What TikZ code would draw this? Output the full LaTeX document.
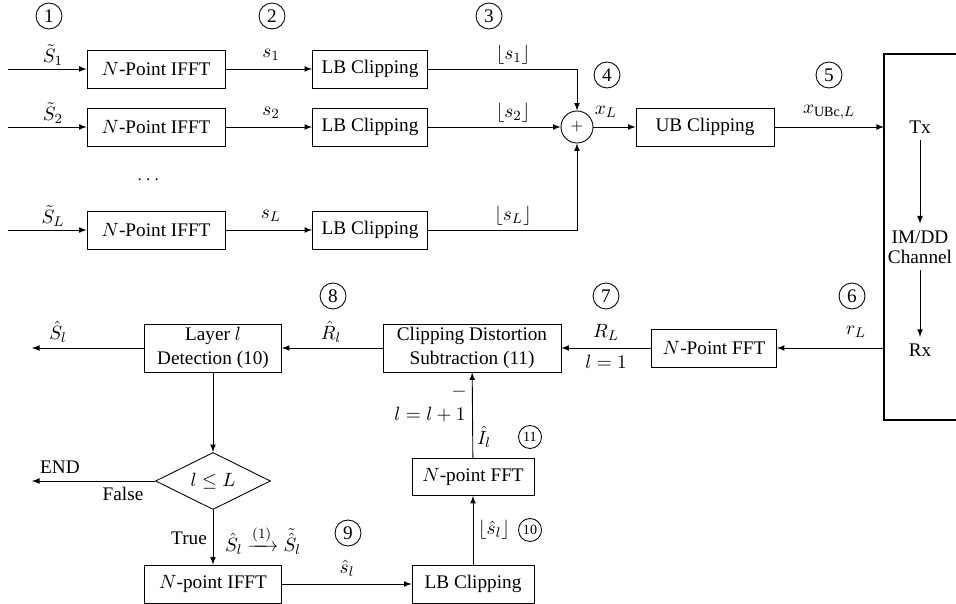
\documentclass[tikz,border=0pt,11pt]{standalone}
\usepackage{amsmath}
\usepackage{fontspec}
\setmainfont{Liberation Serif}
\usetikzlibrary{shapes.geometric}
\tikzset{
  blk/.style={draw, minimum width=2.76cm, minimum height=0.76cm, inner sep=1pt},
  blkb/.style={blk, minimum height=0.96cm, align=center},
  badge/.style={draw, circle, inner sep=0pt, minimum size=0.52cm},
  sbadge/.style={draw, circle, inner sep=0pt, minimum size=0.46cm, font=\scriptsize},
  lbl/.style={inner sep=1pt},
}
\begin{document}
\begin{tikzpicture}[x=0.02cm, y=-0.02cm, line width=0.5pt, >=latex]
        \useasboundingbox (0,0) rectangle (956,604);
        % transmitter, three layers
        \foreach \k/\yy/\lab in {1/69/1, 2/127/2, 3/230/L} {
          \coordinate (in\k) at (8,\yy);
          \node[blk] at (156,\yy) (ifft\k) {$N$-Point IFFT};
          \node[blk, minimum width=2.3cm] at (370,\yy) (lbc\k) {LB Clipping};
          \node[lbl] at (53,\yy-14) (St\k) {$\tilde{S}_{\lab}$};
          \node[lbl] at (271,\yy-14) (s\k) {$s_{\lab}$};
          \node[lbl] at (513,\yy-14) (fs\k) {$\lfloor s_{\lab}\rfloor$};
          \draw[-latex] (in\k) -- (ifft\k);
          \draw[-latex] (ifft\k) -- (lbc\k);
        }
        \node at (150,180) (dots) {$\cdots$};
        \node[badge] at (49,16) (c1) {1};
        \node[badge] at (272,16) (c2) {2};
        \node[badge] at (489,16) (c3) {3};
        \node[badge] at (607,75) (c4) {4};
        \node[badge] at (829,75) (c5) {5};
        \node[draw, circle, minimum size=0.64cm, inner sep=0pt] at (577,127) (sum) {\footnotesize $+$};
        \draw[-latex] (lbc1) -| (sum);
        \draw[-latex] (lbc2) -- (sum);
        \draw[-latex] (lbc3) -| (sum);
        \node[blk] at (705,127) (ubc) {UB Clipping};
        \node[lbl] at (606,112) (xL) {$x_L$};
        \draw[-latex] (sum) -- (ubc);
        % channel
        \coordinate (chin) at (884,127);
        \coordinate (chout) at (884,348);
        \draw[line width=1.1pt] (960,54) -- (884,54) -- (884,420) -- (960,420);
        \node[lbl] at (829,112) (xubc) {$x_{\mathrm{UBc},L}$};
        \draw[-latex] (ubc) -- (chin);
        \node at (920,127) (tx) {Tx};
        \node[align=center] at (920,247) (imdd) {IM/DD\\[-2pt]Channel};
        \node at (920,350) (rx) {Rx};
        \draw[-latex] (tx) -- (imdd);
        \draw[-latex] (imdd) -- (rx);
        % receiver
        \node[blk, minimum width=2.5cm] at (714,348) (fft) {$N$-Point FFT};
        \node[lbl] at (856,332) (rL) {$r_L$};
        \node[badge] at (852,296) (c6) {6};
        \draw[-latex] (chout) -- (fft);
        \node[blkb, minimum width=3.56cm] at (472,348) (cds) {Clipping Distortion\\Subtraction (11)};
        \node[lbl] at (606,332) (RL) {$R_L$};
        \node[lbl] at (606,362) (l1) {$l=1$};
        \node[badge] at (606,296) (c7) {7};
        \draw[-latex] (fft) -- (cds);
        \node[blkb, minimum width=2.74cm] at (213,348) (det) {Layer $l$\\Detection (10)};
        \node[lbl] at (331,332) (Rh) {$\hat{R}_l$};
        \node[badge] at (333,296) (c8) {8};
        \draw[-latex] (cds) -- (det);
        \coordinate (outS) at (32,348);
        \node[lbl] at (58,332) (Sh) {$\hat{S}_l$};
        \draw[-latex] (det) -- (outS);
        \node[draw, diamond, aspect=2, inner sep=1pt, minimum width=2.3cm, minimum height=1.14cm] at (213,481) (chk) {$l\leq L$};
        \draw[-latex] (det) -- (chk);
        \coordinate (endp) at (32,481);
        \node[lbl] at (60,467) (endl) {END};
        \node[lbl] at (123,494) (fls) {False};
        \draw[-latex] (chk) -- (endp);
        \node[blk, minimum width=2.74cm] at (213,584) (ifftr) {$N$-point IFFT};
        \node[lbl] at (189,538) (tru) {True};
        \node[lbl] at (263,540) (map) {$\hat{S}_l \xrightarrow{(1)} \tilde{\hat{S}}_l$};
        \node[badge] at (348,533) (c9) {9};
        \draw[-latex] (chk) -- (ifftr);
        \node[blk, minimum width=2.44cm] at (473,584) (lbcr) {LB Clipping};
        \node[lbl] at (347,568) (sh) {$\hat{s}_l$};
        \draw[-latex] (ifftr) -- (lbcr);
        \node[blk, minimum width=2.44cm, minimum height=0.74cm] at (473,477) (fftr) {$N$-point FFT};
        \node[lbl] at (494,530) (fsh) {$\lfloor\hat{s}_l\rfloor$};
        \node[sbadge] at (530,530) (c10) {10};
        \draw[-latex] (lbcr) -- (fftr);
        \node[lbl] at (459,392) (minus) {$-$};
        \node[lbl] at (430,415) (linc) {$l=l+1$};
        \node[lbl] at (484,437) (Ih) {$\hat{I}_l$};
        \node[sbadge] at (530,437) (c11) {11};
        \draw[-latex] (fftr) -- (cds);
      \end{tikzpicture}
\end{document}
